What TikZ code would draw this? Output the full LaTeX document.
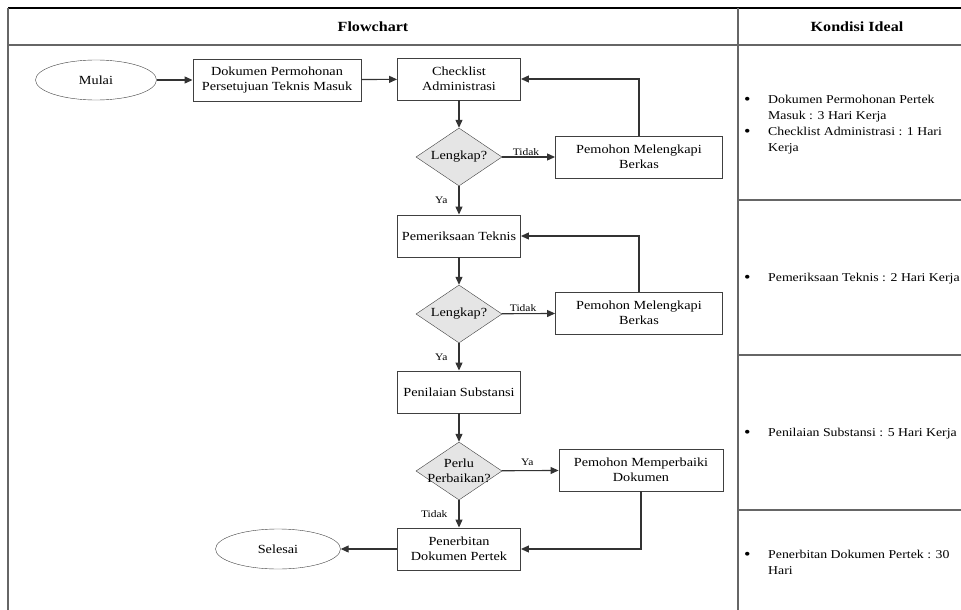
\documentclass[tikz,border=0pt]{standalone}
\usepackage{fontspec}
\setmainfont{Liberation Serif}[FakeStretch=1.15]
\usetikzlibrary{shapes.geometric, arrows.meta, positioning}

\newcommand{\bigbul}{\raisebox{-1.5pt}{\fontsize{16}{16}\selectfont\textbullet}}

\begin{document}
\begin{tikzpicture}[x=1pt, y=-1pt, >={Triangle[length=8pt, width=7pt]}, font=\fontsize{12.4}{14.5}\selectfont]
    \tikzstyle{terminal}=[draw=black!75, ellipse, minimum width=121pt, minimum height=40pt, inner sep=0pt]
    \tikzstyle{process}=[draw=black!75, line width=0.9pt, rectangle, minimum width=123pt, minimum height=42pt, inner sep=2pt, align=center]
    \tikzstyle{decision}=[draw=black!75, diamond, fill=black!10, minimum width=86pt, minimum height=58pt, inner sep=0pt, aspect=1.5, align=center]
    \tikzstyle{flow}=[->, draw=black!80, line width=1.1pt]
    \tikzstyle{annot}=[font=\fontsize{10}{11}\selectfont, inner sep=1pt]
    \tikzstyle{grid}=[draw=black!60, line width=1.4pt]
    \tikzstyle{kondisi}=[anchor=west, inner sep=0pt, align=left, font=\fontsize{12}{16}\selectfont]

    \useasboundingbox (0,0) rectangle (961,610);

    % table
    \draw[draw=black, line width=1.2pt] (8,8) -- (961,8);
    \draw[grid] (8,8) -- (8,610);
    \draw[grid] (8,45) -- (961,45);
    \draw[grid] (738,8) -- (738,610);
    \draw[grid] (738,200) -- (961,200);
    \draw[grid] (738,355) -- (961,355);
    \draw[grid] (738,510) -- (961,510);
    \node[font=\bfseries\fontsize{14}{16}\selectfont] (hflow) at (373,27) {Flowchart};
    \node[font=\bfseries\fontsize{14}{16}\selectfont] (hkondisi) at (857,27) {Kondisi Ideal};

    % flowchart
    \node[terminal] (mulai) at (96,80) {Mulai};
    \node[process, minimum width=168pt] (masuk) at (277,80) {Dokumen Permohonan\\Persetujuan Teknis Masuk};
    \node[process] (cekadm) at (459,79) {Checklist\\Administrasi};
    \node[decision] (lengkap1) at (459,157) {Lengkap?};
    \node[process, minimum width=167pt] (lengkapi1) at (639,157) {Pemohon Melengkapi\\Berkas};
    \node[process] (teknis) at (459,236) {Pemeriksaan Teknis};
    \node[decision] (lengkap2) at (459,314) {Lengkap?};
    \node[process, minimum width=167pt] (lengkapi2) at (639,313) {Pemohon Melengkapi\\Berkas};
    \node[process] (substansi) at (459,392) {Penilaian Substansi};
    \node[decision, inner sep=-9pt] (perbaikan) at (459,471) {Perlu\\Perbaikan?};
    \node[process, minimum width=164pt] (perbaiki) at (641,470) {Pemohon Memperbaiki\\Dokumen};
    \node[process] (terbit) at (459,549) {Penerbitan\\Dokumen Pertek};
    \node[terminal, minimum width=125pt] (selesai) at (278,549) {Selesai};

    \draw[flow] (mulai) -- (masuk);
    \draw[flow] (masuk) -- (cekadm);
    \draw[flow] (cekadm) -- (lengkap1);
    \draw[flow] (lengkap1) -- node[annot, above, pos=0.45] {Tidak} (lengkapi1);
    \draw[flow] (lengkapi1.north) |- (cekadm.east);
    \draw[flow] (lengkap1) -- node[annot, left=10pt] {Ya} (teknis);
    \draw[flow] (teknis) -- (lengkap2);
    \draw[flow] (lengkap2) -- node[annot, above, pos=0.4] {Tidak} (lengkapi2);
    \draw[flow] (lengkapi2.north) |- (teknis.east);
    \draw[flow] (lengkap2) -- node[annot, left=10pt] {Ya} (substansi);
    \draw[flow] (substansi) -- (perbaikan);
    \draw[flow] (perbaikan) -- node[annot, above=3pt, pos=0.45] {Ya} (perbaiki);
    \draw[flow] (perbaikan) -- node[annot, left=10pt] {Tidak} (terbit);
    \draw[flow] (perbaiki.south) |- (terbit.east);
    \draw[flow] (terbit) -- (selesai);

    % kondisi ideal
    \node[kondisi] (kond1) at (744,124) {\begin{tabular}{@{}p{24pt}@{}l@{}}
        \bigbul & Dokumen Permohonan Pertek\\
                & Masuk : 3 Hari Kerja\\
        \bigbul & Checklist Administrasi : 1 Hari\\
                & Kerja\end{tabular}};
    \node[kondisi] (kond2) at (744,278) {\begin{tabular}{@{}p{24pt}@{}l@{}}
        \bigbul & Pemeriksaan Teknis : 2 Hari Kerja\end{tabular}};
    \node[kondisi] (kond3) at (744,433) {\begin{tabular}{@{}p{24pt}@{}l@{}}
        \bigbul & Penilaian Substansi : 5 Hari Kerja\end{tabular}};
    \node[kondisi] (kond4) at (744,563) {\begin{tabular}{@{}p{24pt}@{}l@{}}
        \bigbul & Penerbitan Dokumen Pertek : 30\\
                & Hari\end{tabular}};
\end{tikzpicture}
\end{document}
